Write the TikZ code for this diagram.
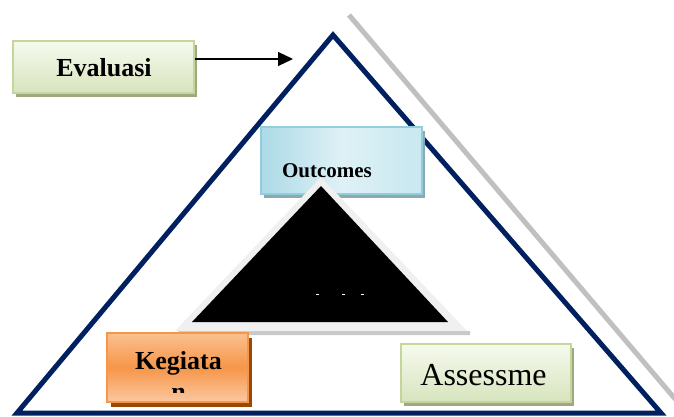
\documentclass[tikz,border=0pt]{standalone}
\usepackage{fontspec}
\setmainfont{Liberation Serif}
\usetikzlibrary{arrows.meta,shadows}
\definecolor{navy}{RGB}{0,32,96}
\definecolor{greyline}{RGB}{192,192,192}
\definecolor{grnborder}{RGB}{195,214,155}
\definecolor{grntop}{RGB}{246,250,238}
\definecolor{grnbot}{RGB}{215,228,189}
\definecolor{grnshadow}{RGB}{160,168,128}
\definecolor{bluborder}{RGB}{146,205,220}
\definecolor{blul}{RGB}{172,218,230}
\definecolor{blur}{RGB}{200,232,240}
\definecolor{blushadow}{RGB}{140,168,176}
\definecolor{orgborder}{RGB}{247,150,70}
\definecolor{orgtop}{RGB}{250,192,143}
\definecolor{orgmid}{RGB}{246,150,72}
\definecolor{orgbot}{RGB}{251,200,160}
\definecolor{orgshadow}{RGB}{152,72,7}
\definecolor{lightedge}{RGB}{240,240,240}
\definecolor{edgeshadow}{RGB}{200,200,200}
\tikzset{
  box/.style={rectangle, line width=1.5pt, inner sep=0pt},
  greenbox/.style={box, draw=grnborder, top color=grntop, bottom color=grnbot,
    drop shadow={shadow xshift=3pt, shadow yshift=-4pt, fill=grnshadow, opacity=1}},
  bluebox/.style={box, draw=bluborder, left color=blul, right color=blur, middle color=blur!60!white,
    drop shadow={shadow xshift=3pt, shadow yshift=-4pt, fill=blushadow, opacity=1}},
  orangebox/.style={box, draw=orgborder, top color=orgtop, bottom color=orgbot, middle color=orgmid,
    drop shadow={shadow xshift=4pt, shadow yshift=-5pt, fill=orgshadow, opacity=1}},
  boldlbl/.style={font=\bfseries\fontsize{26}{30}\selectfont, anchor=base, inner sep=0pt},
}
\begin{document}
\begin{tikzpicture}[x=1pt,y=-1pt]
\clip (0,0) rectangle (674,417);
\fill[white] (0,0) rectangle (674,417);
% grey parallel line
\draw[greyline, line width=5pt] (349,15) -- (710,440);
% outer triangle
\draw[navy, line width=5pt, line join=miter] (333,35) -- (17,413) -- (661,413) -- cycle;
% Evaluasi
\node[greenbox, minimum width=181pt, minimum height=52pt] (evaluasi) at (103.5,67) {};
\node[boldlbl] (evaltxt) at (104,77) {Evaluasi};
\coordinate (arrowend) at (293,59);
\draw[line width=1.2pt, -{Triangle[length=15pt,width=14pt]}] ([yshift=8pt]evaluasi.east) -- (arrowend);
% Outcomes
\node[bluebox, minimum width=161pt, minimum height=67pt] (outcomes) at (341.5,160.5) {};
\node[boldlbl, font=\bfseries\fontsize{21}{25}\selectfont] (outtxt) at (327,177) {Outcomes};
% inner triangle
\fill[edgeshadow] (178,331) -- (470,331) -- (470,335) -- (180,335) -- cycle;
\fill[lightedge] (321,177) -- (175,331) -- (467,331) -- cycle;
\fill[black] (321,186) -- (192,322) -- (448,322) -- cycle;
\fill[white] (316,293.5) rectangle (318.5,295);
\fill[white] (342,293.5) rectangle (344.5,295);
\fill[white] (361,293.5) rectangle (363.5,295);
% Kegiatan
\node[orangebox, minimum width=141pt, minimum height=69pt] (kegiatan) at (177.5,367.5) {};
\node[boldlbl] (kegtxt) at (178.5,369) {Kegiata};
\begin{scope}
\clip (107,333) rectangle (248,392);
\node[boldlbl] (kegtxt2) at (178.5,400) {n};
\end{scope}
% Assessme
\node[greenbox, minimum width=170pt, minimum height=58pt] (assess) at (486,373) {};
\node[font=\fontsize{32}{36}\selectfont, anchor=base, inner sep=0pt] (asstxt) at (483.5,385) {Assessme};
\end{tikzpicture}
\end{document}
